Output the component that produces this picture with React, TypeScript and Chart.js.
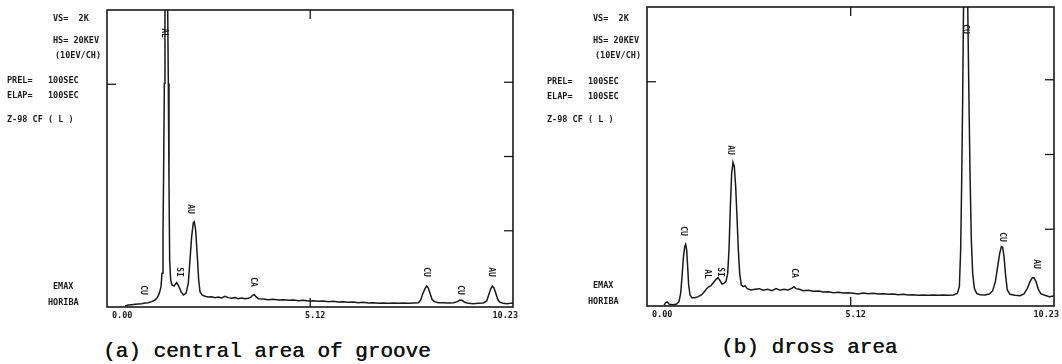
import React, { useEffect, useRef } from "react";
import { Chart, registerables } from "chart.js";
Chart.register(...registerables);

// ---------- data ----------
const xTickValues = [0, 5.12, 10.23];
const rightYTickValues = [1, 2, 3];
const leftYTickValues = [3];

const energyA = [0.454,0.538,0.622,0.706,0.790,0.874,0.958,1.041,1.125,1.209,1.268,1.319,1.361,1.386,1.411,1.428,1.445,1.461,1.495,1.529,1.545,1.562,1.579,1.604,1.638,1.688,1.755,1.806,1.865,1.923,1.991,2.049,2.091,2.133,2.175,2.200,2.234,2.276,2.310,2.343,2.394,2.469,2.553,2.637,2.721,2.805,2.889,2.973,3.057,3.141,3.225,3.309,3.393,3.477,3.561,3.620,3.670,3.712,3.754,3.813,3.939,4.065,4.191,4.317,4.443,4.569,4.695,4.821,4.947,5.073,5.199,5.325,5.451,5.577,5.703,5.829,5.955,6.081,6.207,6.333,6.459,6.585,6.711,6.837,6.963,7.089,7.215,7.341,7.467,7.593,7.719,7.845,7.904,7.954,8.013,8.055,8.097,8.139,8.189,8.248,8.349,8.475,8.601,8.727,8.828,8.895,8.945,9.013,9.105,9.231,9.357,9.483,9.567,9.617,9.668,9.709,9.751,9.802,9.852,9.903,9.987,10.071,10.171,10.23];
const countsA = [0.013,0.027,0.031,0.036,0.040,0.045,0.054,0.058,0.072,0.094,0.126,0.184,0.274,0.453,0.992,1.890,3.012,4.090,6.000,4.040,3.010,1.670,0.633,0.364,0.296,0.283,0.328,0.283,0.207,0.162,0.184,0.319,0.633,0.947,1.136,1.149,1.037,0.678,0.364,0.207,0.162,0.144,0.135,0.139,0.126,0.135,0.121,0.144,0.126,0.117,0.126,0.112,0.121,0.112,0.117,0.130,0.157,0.166,0.139,0.112,0.108,0.099,0.103,0.094,0.099,0.090,0.094,0.085,0.090,0.081,0.085,0.076,0.081,0.072,0.076,0.067,0.072,0.063,0.067,0.058,0.063,0.054,0.058,0.049,0.054,0.049,0.054,0.049,0.054,0.049,0.054,0.058,0.094,0.175,0.247,0.283,0.256,0.184,0.103,0.072,0.058,0.058,0.054,0.058,0.072,0.094,0.090,0.063,0.049,0.045,0.049,0.054,0.081,0.162,0.242,0.283,0.256,0.175,0.094,0.063,0.049,0.045,0.049,0.054];

const energyB = [0.427,0.469,0.511,0.561,0.662,0.746,0.804,0.846,0.880,0.913,0.947,0.972,0.997,1.022,1.047,1.081,1.131,1.206,1.290,1.374,1.441,1.500,1.542,1.600,1.667,1.734,1.785,1.835,1.885,1.935,1.986,2.028,2.061,2.095,2.128,2.162,2.195,2.229,2.262,2.296,2.329,2.371,2.421,2.463,2.522,2.606,2.715,2.824,2.924,3.033,3.142,3.242,3.343,3.444,3.544,3.636,3.695,3.745,3.829,3.929,4.055,4.181,4.307,4.432,4.558,4.684,4.809,4.935,5.061,5.186,5.312,5.438,5.563,5.689,5.815,5.940,6.066,6.192,6.317,6.443,6.569,6.694,6.820,6.946,7.071,7.197,7.323,7.448,7.574,7.700,7.800,7.851,7.884,7.909,7.934,7.951,8.010,8.068,8.093,8.119,8.152,8.186,8.228,8.286,8.370,8.496,8.605,8.689,8.756,8.814,8.865,8.907,8.940,8.974,9.016,9.057,9.124,9.250,9.375,9.476,9.560,9.627,9.686,9.727,9.778,9.836,9.903,10.003,10.113,10.213,10.23];
const countsB = [0.009,0.045,0.054,0.022,0.018,0.027,0.058,0.169,0.392,0.638,0.794,0.825,0.749,0.526,0.281,0.147,0.111,0.111,0.125,0.152,0.192,0.232,0.254,0.268,0.312,0.357,0.379,0.339,0.294,0.303,0.330,0.437,0.749,1.329,1.775,1.922,1.864,1.596,1.195,0.749,0.437,0.281,0.259,0.272,0.232,0.214,0.223,0.232,0.210,0.223,0.205,0.232,0.210,0.223,0.214,0.236,0.259,0.232,0.223,0.205,0.210,0.196,0.201,0.187,0.192,0.178,0.183,0.174,0.178,0.169,0.161,0.174,0.165,0.169,0.161,0.165,0.156,0.161,0.152,0.156,0.147,0.152,0.143,0.147,0.143,0.147,0.143,0.147,0.143,0.147,0.169,0.259,0.749,1.641,2.756,3.737,6.500,3.737,2.756,1.775,0.883,0.437,0.236,0.169,0.152,0.147,0.161,0.205,0.326,0.526,0.705,0.794,0.785,0.660,0.392,0.214,0.156,0.143,0.138,0.161,0.236,0.326,0.379,0.379,0.326,0.223,0.161,0.143,0.125,0.134,0.143];

const peakNamesA = ["CU", "AL", "SI", "AU", "CA", "CU", "CU", "AU"];
const peakXA = [0.907, 1.436, 1.814, 2.091, 3.679, 8.038, 8.895, 9.676];
const peakYA = [0.229, 3.69, 0.471, 1.32, 0.337, 0.471, 0.229, 0.471];

const peakNamesB = ["CU", "AL", "SI", "AU", "CA", "CU", "CU", "AU"];
const peakXB = [0.905, 1.508, 1.835, 2.086, 3.695, 7.993, 8.923, 9.778];
const peakYB = [1.003, 0.428, 0.455, 2.087, 0.441, 3.706, 0.923, 0.562];

const infoLines = ["VS=  2K", "HS= 20KEV", "(10EV/CH)", "PREL=   100SEC", "ELAP=   100SEC", "Z-98 CF ( L )", "EMAX", "HORIBA"];
const captions = ["(a) central area of groove", "(b) dross area"];

// ---------- styling ----------
const INK = "#1a1a1a";
const SMALL_FONT = '"DejaVu Sans Mono", monospace';

type PanelProps = {
  left: number;
  width: number;
  height: number;
  padLeft: number;
  padTop: number;
  padRight: number;
  axisH: number;
  energy: number[];
  counts: number[];
  names: string[];
  px: number[];
  py: number[];
};

function Panel(p: PanelProps) {
  const ref = useRef<HTMLCanvasElement | null>(null);
  useEffect(() => {
    if (!ref.current) return;
    const framePlugin = {
      id: "frame",
      afterDatasetsDraw(chart: any) {
        const { ctx, chartArea: a, scales } = chart;
        const line = (x1: number, y1: number, x2: number, y2: number) => {
          ctx.beginPath();
          ctx.moveTo(x1, y1);
          ctx.lineTo(x2, y2);
          ctx.stroke();
        };
        ctx.save();
        ctx.strokeStyle = INK;
        ctx.lineWidth = 1.6;
        ctx.strokeRect(a.left, a.top, a.right - a.left, a.bottom - a.top);
        ctx.lineWidth = 1.3;
        for (const v of rightYTickValues) {
          const y = scales.y.getPixelForValue(v) - 2;
          line(a.right - 9, y, a.right, y);
        }
        for (const v of leftYTickValues) {
          const y = scales.y.getPixelForValue(v);
          line(a.left, y, a.left + 9, y);
        }
        const xm = scales.x.getPixelForValue(xTickValues[1]);
        line(xm, a.top, xm, a.top + 9);
        line(xm, a.bottom - 9, xm, a.bottom);
        ctx.fillStyle = INK;
        ctx.font = `bold 8px ${SMALL_FONT}`;
        ctx.textAlign = "center";
        ctx.textBaseline = "middle";
        p.names.forEach((n, i) => {
          const x = scales.x.getPixelForValue(p.px[i]);
          const y = scales.y.getPixelForValue(p.py[i]);
          ctx.save();
          ctx.translate(x, y);
          ctx.rotate(Math.PI / 2);
          ctx.fillText(n, 0, 0);
          ctx.restore();
        });
        ctx.restore();
      },
    };
    const chart = new Chart(ref.current, {
      type: "line",
      data: {
        datasets: [
          {
            data: p.energy.map((x, i) => ({ x, y: p.counts[i] })),
            borderColor: INK,
            borderWidth: 1.5,
            pointRadius: 0,
            tension: 0,
            fill: false,
          },
        ],
      },
      options: {
        animation: false,
        responsive: false,
        devicePixelRatio: 1,
        events: [],
        layout: { padding: { left: p.padLeft, top: p.padTop, right: p.padRight, bottom: 0 } },
        plugins: { legend: { display: false }, tooltip: { enabled: false } },
        scales: {
          x: {
            type: "linear",
            min: 0,
            max: 10.23,
            afterBuildTicks: (s: any) => {
              s.ticks = xTickValues.map((v) => ({ value: v }));
            },
            afterFit: (s: any) => {
              s.height = p.axisH;
            },
            grid: { display: false, drawTicks: false },
            border: { display: false },
            ticks: {
              align: "inner",
              labelOffset: 5,
              padding: 4,
              autoSkip: false,
              maxRotation: 0,
              color: INK,
              font: { family: SMALL_FONT, size: 8.5, weight: "bold" },
              callback: (v: any) => Number(v).toFixed(2),
            },
          },
          y: { type: "linear", min: 0, max: 4, display: false },
        },
      } as any,
      plugins: [framePlugin],
    });
    return () => chart.destroy();
  }, []);
  return (
    <canvas
      ref={ref}
      width={p.width}
      height={p.height}
      style={{ position: "absolute", left: p.left, top: 0, width: p.width, height: p.height, display: "block" }}
    />
  );
}

const smallText: React.CSSProperties = {
  position: "absolute",
  fontFamily: SMALL_FONT,
  fontWeight: "bold",
  fontSize: 8.5,
  lineHeight: "8.5px",
  color: INK,
  whiteSpace: "pre",
};

const capText: React.CSSProperties = {
  position: "absolute",
  fontFamily: '"Liberation Mono", monospace',
  fontSize: 21,
  lineHeight: "21px",
  color: "#111",
  whiteSpace: "pre",
  textShadow: "0.4px 0 0 #111",
};

function InfoBlock({ dx, tops }: { dx: number; tops: number[] }) {
  const lefts = [53, 53, 55, 7, 7, 7, 53, 48];
  return (
    <>
      {infoLines.map((t, i) => (
        <div key={i} style={{ ...smallText, left: lefts[i] + dx, top: tops[i] }}>
          {t}
        </div>
      ))}
    </>
  );
}

export default function App() {
  return (
    <div style={{ position: "absolute", left: 0, top: 0, width: 1062, height: 364, background: "#fff", overflow: "hidden" }}>
      <Panel left={0} width={530} height={330} padLeft={107} padTop={10} padRight={17} axisH={23}
        energy={energyA} counts={countsA} names={peakNamesA} px={peakXA} py={peakYA} />
      <Panel left={540} width={522} height={330} padLeft={107} padTop={7} padRight={8} axisH={24}
        energy={energyB} counts={countsB} names={peakNamesB} px={peakXB} py={peakYB} />
      <InfoBlock dx={0} tops={[13.5, 36, 51, 76, 91, 114.5, 281.5, 297.5]} />
      <InfoBlock dx={540} tops={[13.5, 36, 51, 77, 92, 114.5, 280.5, 297]} />
      <div style={{ ...capText, left: 103, top: 341 }}>{captions[0]}</div>
      <div style={{ ...capText, left: 721, top: 337 }}>{captions[1]}</div>
    </div>
  );
}
